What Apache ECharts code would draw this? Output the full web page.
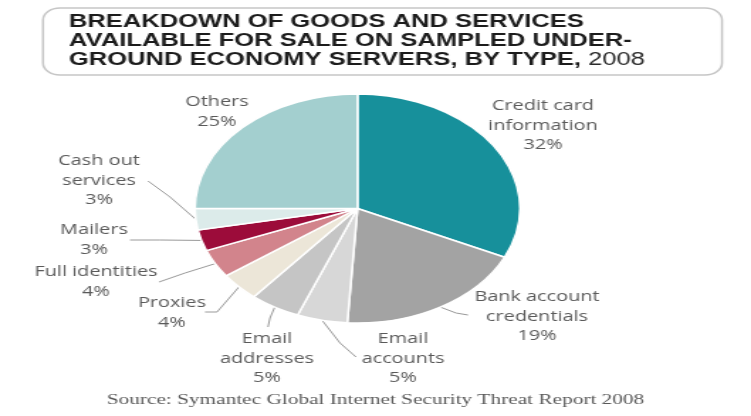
<!DOCTYPE html>
<html>
<head>
<meta charset="utf-8">
<script src="https://cdn.jsdelivr.net/npm/echarts@6/dist/echarts.min.js"></script>
<style>
  html, body { margin: 0; padding: 0; background: #fff; overflow: hidden; }
  /* the chart is laid out in a narrower box and widened to 751px */
  #chart { width: 529px; height: 416px; transform-origin: 0 0; }
</style>
</head>
<body>
<div id="chart"></div>
<script>
// ---- data ----
const categories = [
  'Credit card\ninformation',
  'Bank account\ncredentials',
  'Email\naccounts',
  'Email\naddresses',
  'Proxies',
  'Full identities',
  'Mailers',
  'Cash out\nservices',
  'Others'
];
const shares = [32, 19, 5, 5, 4, 4, 3, 3, 25];

const titleLines = [
  'BREAKDOWN OF GOODS AND SERVICES',
  'AVAILABLE FOR SALE ON SAMPLED UNDER-',
  'GROUND ECONOMY SERVERS, BY TYPE, '
];
const titleYear = '2008';
const sourceNote = 'Source: Symantec Global Internet Security Threat Report 2008';

// ---- styling / layout ----
const PAGE_W = 751;
const BOX_W = 529;
const STRETCH = PAGE_W / BOX_W;
document.getElementById('chart').style.transform = 'scaleX(' + STRETCH + ')';

const sliceColors = ['#17909b', '#a3a3a3', '#d7d7d7', '#c5c5c5', '#ece6d8',
                     '#d2848c', '#9c0c3a', '#dcebea', '#a3cfcf'];

// label block centres, in page pixels
const labelAt = [
  [543, 126], [537, 317], [403, 359], [267, 359], [172, 313],
  [96, 282], [94, 240], [99, 181], [217, 112]
];
// leader line bends / ends after the slice edge, in page pixels (null = no line)
const guideTo = [
  null,
  [[456, 313], [468, 315]],
  [[340, 343], [356, 357]],
  [[270, 318], [268, 327]],
  [[217, 312], [205, 312]],
  [[185, 273], [159, 282]],
  [[160, 240], [130, 240]],
  [[170, 197], [148, 181]],
  null
];

const px = x => x / STRETCH;

const chart = echarts.init(document.getElementById('chart'));

const pieData = categories.map((name, i) => ({
  name: name,
  value: shares[i],
  itemStyle: { color: sliceColors[i] },
  labelLine: { show: guideTo[i] !== null }
}));

chart.setOption({
  animation: false,
  backgroundColor: '#ffffff',
  title: [
    {
      left: px(69), top: 13, padding: 0,
      text: titleLines.map((t, i) => i < titleLines.length - 1
        ? '{b|' + t + '}'
        : '{b|' + t + '}{r|' + titleYear + '}').join('\n'),
      textStyle: {
        rich: {
          b: { fontFamily: 'Liberation Sans', fontWeight: 'bold', fontSize: 18,
               lineHeight: 19, color: '#1c1c1c' },
          r: { fontFamily: 'Liberation Sans', fontWeight: 'normal', fontSize: 18,
               lineHeight: 19, color: '#2a2a2a' }
        }
      }
    },
    {
      text: sourceNote, left: 'center', top: 393, padding: 0,
      textStyle: { fontFamily: 'Liberation Serif', fontWeight: 'normal',
                   fontSize: 15, color: '#595959' }
    }
  ],
  graphic: [{
    type: 'rect', silent: true, z: -1,
    shape: { x: px(43), y: 8, width: px(722 - 43), height: 67, r: 12 },
    style: { fill: 'none', stroke: '#c6c6c6', lineWidth: 1.5 }
  }],
  series: [{
    type: 'pie',
    center: [px(357.5), 208.5],
    radius: 114.5,
    startAngle: 90,
    clockwise: true,
    avoidLabelOverlap: false,
    itemStyle: { borderColor: '#ffffff', borderWidth: 1.5 },
    label: {
      show: true,
      formatter: '{b}\n{c}%',
      fontFamily: 'Open Sans',
      fontSize: 14,
      lineHeight: 19.5,
      color: '#5a5a5a',
      align: 'center'
    },
    labelLine: {
      show: true,
      length: 10, length2: 10,
      lineStyle: { color: '#9a9a9a', width: 1 }
    },
    labelLayout: function (p) {
      const i = p.dataIndex;
      const out = {
        x: px(labelAt[i][0]), y: labelAt[i][1],
        align: 'center', verticalAlign: 'middle'
      };
      const g = guideTo[i];
      if (g && p.labelLinePoints) {
        out.labelLinePoints = [p.labelLinePoints[0].slice()]
          .concat(g.map(pt => [px(pt[0]), pt[1]]));
      }
      return out;
    },
    emphasis: { disabled: true },
    data: pieData
  }]
});
</script>
</body>
</html>
